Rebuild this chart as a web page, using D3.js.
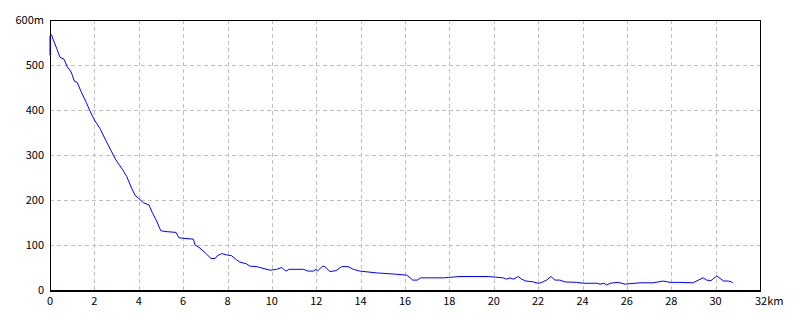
<!DOCTYPE html>
<html>
<head>
<meta charset="utf-8">
<script src="https://cdn.jsdelivr.net/npm/d3@7"></script>
<style>
  body { margin: 0; background: #fff; }
  svg text { font-family: "Noto Sans CJK JP", "DejaVu Sans", sans-serif; font-size: 11px; fill: #000; }
</style>
</head>
<body>
<div class="chart"></div>
<script>
// distance (km) and elevation (m)
var distKm = [0, 0, 0.07, 0.15, 0.30, 0.45, 0.63, 0.78, 0.95, 1.10, 1.23, 1.40, 1.65, 1.80, 2.00, 2.25, 2.51, 2.78, 2.97, 3.28, 3.46, 3.68, 3.83, 3.98, 4.21, 4.46, 4.63, 4.78, 4.99, 5.18, 5.68, 5.81, 6.01, 6.46, 6.54, 6.76, 6.99, 7.26, 7.44, 7.54, 7.74, 7.96, 8.19, 8.41, 8.56, 8.86, 9.01, 9.32, 9.46, 9.92, 10.22, 10.44, 10.64, 10.78, 11.42, 11.64, 11.87, 11.99, 12.05, 12.29, 12.39, 12.62, 12.89, 13.15, 13.44, 13.67, 13.97, 14.72, 15.62, 16.08, 16.35, 16.55, 16.71, 17.73, 18.48, 19.75, 20.43, 20.58, 20.73, 20.88, 21.11, 21.26, 21.45, 21.78, 22.00, 22.13, 22.38, 22.58, 22.76, 22.98, 23.21, 23.74, 24.04, 24.64, 24.79, 24.97, 25.09, 25.24, 25.61, 25.92, 26.59, 27.19, 27.64, 27.94, 28.39, 28.99, 29.22, 29.44, 29.59, 29.79, 30.05, 30.20, 30.35, 30.57, 30.72, 30.77];
var elevM = [522, 565, 567, 556, 537, 517, 513, 496, 485, 464, 461, 441, 415, 398, 378, 359, 333, 307, 289, 267, 252, 226, 211, 204, 194, 189, 170, 156, 132, 130, 128, 116, 115, 113, 100, 93, 83, 70, 70, 76, 81, 78, 76, 67, 62, 58, 53, 52, 50, 44, 46, 50, 42, 46, 46, 42, 42, 46, 42, 53, 52, 41, 43, 52, 52, 46, 42, 38, 35, 33, 22, 22, 27, 27, 30, 30, 27, 24, 27, 24, 30, 24, 20, 18, 15, 16, 22, 30, 22, 22, 18, 17, 15, 15, 13, 15, 11, 15, 17, 13, 16, 16, 20, 17, 17, 16, 22, 27, 22, 21, 31, 26, 20, 20, 18, 15];

var xTicks = [0, 2, 4, 6, 8, 10, 12, 14, 16, 18, 20, 22, 24, 26, 28, 30, 32];
var yTicks = [0, 100, 200, 300, 400, 500, 600];

var width = 800;
var height = 320;
var plotLeft = 50, plotRight = 760, plotTop = 20, plotBottom = 290;

var svg = d3.select(".chart")
  .append("svg")
    .attr("width", width)
    .attr("height", height);

var x = d3.scaleLinear().domain([0, 32]).range([plotLeft, plotRight]);
var y = d3.scaleLinear().domain([0, 600]).range([plotBottom, plotTop]);

// dashed grid
svg.append("g")
  .selectAll("line")
  .data(xTicks.slice(1, -1))
  .enter()
  .append("line")
    .attr("x1", function(d) { return Math.round(x(d)) + 0.5; })
    .attr("x2", function(d) { return Math.round(x(d)) + 0.5; })
    .attr("y1", plotTop)
    .attr("y2", plotBottom)
    .style("stroke", "#c0c0c0")
    .style("stroke-dasharray", "4,3");

svg.append("g")
  .selectAll("line")
  .data(yTicks.slice(1, -1))
  .enter()
  .append("line")
    .attr("x1", plotLeft)
    .attr("x2", plotRight)
    .attr("y1", function(d) { return Math.round(y(d)) + 0.5; })
    .attr("y2", function(d) { return Math.round(y(d)) + 0.5; })
    .style("stroke", "#c0c0c0")
    .style("stroke-dasharray", "4,3");

// frame
svg.append("rect")
  .attr("x", plotLeft + 0.5)
  .attr("y", plotTop + 0.5)
  .attr("width", plotRight - plotLeft)
  .attr("height", plotBottom - plotTop)
  .style("fill", "none")
  .style("stroke", "#000")
  .style("stroke-width", 1);

svg.append("line")
  .attr("x1", plotLeft).attr("x2", plotRight + 1)
  .attr("y1", plotBottom + 1).attr("y2", plotBottom + 1)
  .style("stroke", "#000")
  .style("stroke-width", 2);

// profile
var pts = distKm.map(function(d, i) { return [d, elevM[i]]; });
var line = d3.line()
  .x(function(d) { return x(d[0]); })
  .y(function(d) { return y(d[1]); });

svg.append("path")
  .datum(pts)
  .attr("d", line)
  .style("fill", "none")
  .style("stroke", "#0000ff")
  .style("stroke-width", 1);

// y labels
svg.append("g")
  .selectAll("text")
  .data(yTicks)
  .enter()
  .append("text")
    .attr("x", plotLeft - 6)
    .attr("y", function(d) { return y(d); })
    .attr("dy", "0.35em")
    .attr("text-anchor", "end")
    .text(function(d) { return d == 600 ? d + "m" : d; });

// x labels
svg.append("g")
  .selectAll("text")
  .data(xTicks)
  .enter()
  .append("text")
    .attr("x", function(d) { return d == 32 ? x(d) - 5 : x(d); })
    .attr("y", plotBottom + 11)
    .attr("dy", "0.35em")
    .attr("text-anchor", function(d) { return d == 32 ? "start" : "middle"; })
    .text(function(d) { return d == 32 ? d + "km" : d; });
</script>
</body>
</html>
